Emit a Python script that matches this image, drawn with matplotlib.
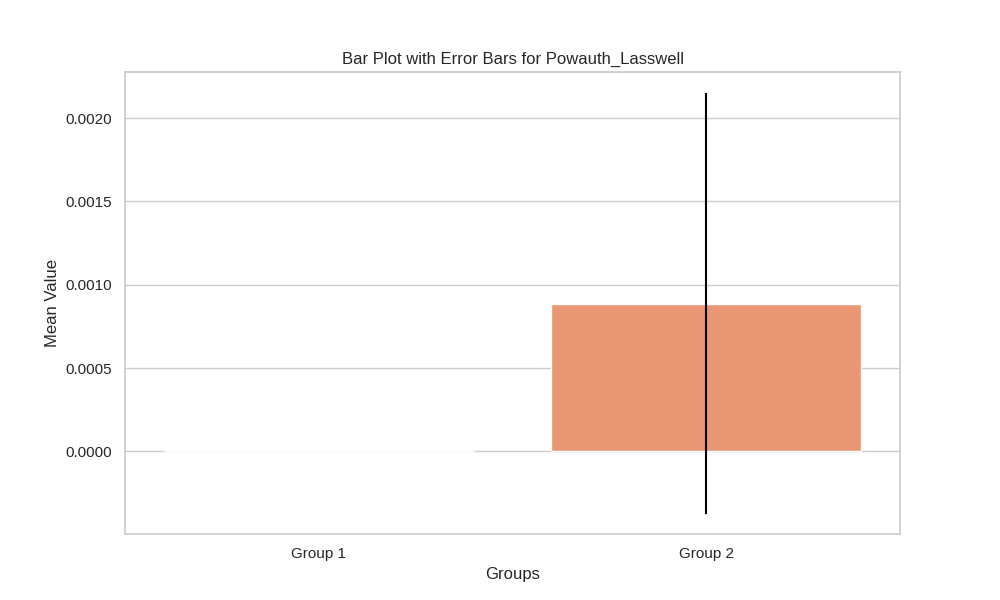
import numpy as np
import matplotlib
matplotlib.use('Agg')
import matplotlib.pyplot as plt
import seaborn as sns

# Values
groups = ['Group 1', 'Group 2']
means = [0.0, 0.000886]
errors = [0.0, 0.001264]
bar_colors = ['#8fb3e8', '#e89674']

sns.set_theme(style='whitegrid')
plt.rcParams['font.family'] = ['Liberation Sans', 'DejaVu Sans']

fig, ax = plt.subplots(figsize=(10, 6), dpi=100)
x = np.arange(len(groups))
ax.bar(x, means, width=0.8, color=bar_colors, edgecolor='white', linewidth=1)
ax.errorbar(x[1:], means[1:], yerr=errors[1:], fmt='none', ecolor='black',
            elinewidth=1.5, capsize=0)

ax.set_xticks(x)
ax.set_xticklabels(groups)
ax.set_xlim(-0.5, len(groups) - 0.5)
ax.set_ylim(-0.000495, 0.002276)
ax.xaxis.grid(False)
ax.set_xlabel('Groups')
ax.set_ylabel('Mean Value')
ax.set_title('Bar Plot with Error Bars for Powauth_Lasswell')

fig.savefig('out.png')
